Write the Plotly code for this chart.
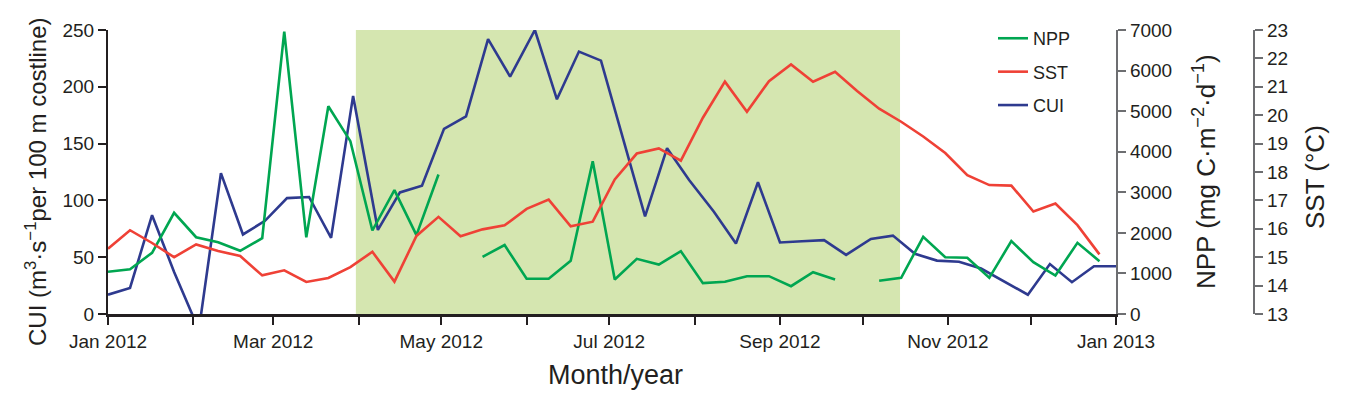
import plotly.graph_objects as go

# ---------------- data ----------------
# CUI sampled on 46 equally spaced dates spanning the whole year
cui_dates = ["2012-01-01", "2012-01-09", "2012-01-17", "2012-01-25", "2012-02-03", "2012-02-11",
             "2012-02-19", "2012-02-27", "2012-03-06", "2012-03-14", "2012-03-22", "2012-03-30",
             "2012-04-08", "2012-04-16", "2012-04-24", "2012-05-02", "2012-05-10", "2012-05-18",
             "2012-05-26", "2012-06-04", "2012-06-12", "2012-06-20", "2012-06-28", "2012-07-06",
             "2012-07-14", "2012-07-22", "2012-07-30", "2012-08-08", "2012-08-16", "2012-08-24",
             "2012-09-01", "2012-09-09", "2012-09-17", "2012-09-25", "2012-10-04", "2012-10-12",
             "2012-10-20", "2012-10-28", "2012-11-05", "2012-11-13", "2012-11-21", "2012-11-30",
             "2012-12-08", "2012-12-16", "2012-12-24", "2013-01-01"]
cui = [17, 23, 87, 37, -14, 124, 70, 82, 102, 103, 67, 192,
       74, 107, 113, 163, 174, 242, 209, 250, 189, 231, 223, 155,
       86, 146, 118, 90, 62, 116, 63, 64, 65, 52, 66, 69,
       53, 47, 46, 40, 29, 17, 44, 28, 42, 42]

# NPP and SST on 8-day composites
eight_day_dates = ["2012-01-01", "2012-01-09", "2012-01-17", "2012-01-25", "2012-02-02", "2012-02-10",
                   "2012-02-18", "2012-02-26", "2012-03-05", "2012-03-13", "2012-03-21", "2012-03-29",
                   "2012-04-06", "2012-04-14", "2012-04-22", "2012-04-30", "2012-05-08", "2012-05-16",
                   "2012-05-24", "2012-06-01", "2012-06-09", "2012-06-17", "2012-06-25", "2012-07-03",
                   "2012-07-11", "2012-07-19", "2012-07-27", "2012-08-04", "2012-08-12", "2012-08-20",
                   "2012-08-28", "2012-09-05", "2012-09-13", "2012-09-21", "2012-09-29", "2012-10-07",
                   "2012-10-15", "2012-10-23", "2012-10-31", "2012-11-08", "2012-11-16", "2012-11-24",
                   "2012-12-02", "2012-12-10", "2012-12-18", "2012-12-26"]
npp = [1040, 1105, 1509, 2495, 1893, 1770, 1558, 1869, 6960, 1890, 5122, 4260,
       2058, 3052, 1943, 3439, None, 1410, 1700, 868, 868, 1311, 3767, 850,
       1360, 1220, 1548, 760, 794, 932, 932, 685, 1030, 850, None, 818,
       892, 1903, 1400, 1385, 892, 1795, 1277, 949, 1755, 1302]
sst = [15.30, 15.95, 15.50, 15.00, 15.45, 15.22, 15.04, 14.36, 14.54, 14.13, 14.27, 14.65,
       15.19, 14.14, 15.75, 16.42, 15.74, 15.98, 16.12, 16.70, 17.03, 16.09, 16.25, 17.74,
       18.65, 18.83, 18.40, 19.91, 21.18, 20.12, 21.20, 21.79, 21.18, 21.53, 20.85, 20.23,
       19.77, 19.25, 18.67, 17.89, 17.54, 17.52, 16.61, 16.89, 16.13, 15.10]

# highlighted period
shade_start = "2012-03-31"
shade_end = "2012-10-14T14:00"

month_ticks = ["2012-%02d-01" % m for m in range(1, 13)] + ["2013-01-01"]
month_labels = ["Jan 2012", "", "Mar 2012", "", "May 2012", "", "Jul 2012", "",
                "Sep 2012", "", "Nov 2012", "", "Jan 2013"]

# ---------------- style ----------------
C_NPP = "#00a651"
C_SST = "#ef4136"
C_CUI = "#2e3a8f"
DARK = "#231f20"
GREY = "#6d6e71"
FAM = "Liberation Sans, Arial, sans-serif"
TICKF = dict(family=FAM, size=19, color=DARK)

fig = go.Figure()
fig.add_trace(go.Scatter(x=cui_dates, y=cui, name="CUI", mode="lines", yaxis="y",
                         line=dict(color=C_CUI, width=2.6), legendrank=3, legendgroup="c"))
fig.add_trace(go.Scatter(x=eight_day_dates, y=npp, name="NPP", mode="lines", yaxis="y2",
                         line=dict(color=C_NPP, width=2.6), connectgaps=False,
                         legendrank=1, legendgroup="a"))
fig.add_trace(go.Scatter(x=eight_day_dates, y=sst, name="SST", mode="lines", yaxis="y3",
                         line=dict(color=C_SST, width=2.6), legendrank=2, legendgroup="b"))

fig.add_vrect(x0=shade_start, x1=shade_end, fillcolor="#d5e6b0", opacity=1,
              line_width=0, layer="below")

# page body has an 8px margin, so the figure is offset by 8px
FIG_W, FIG_H = 1339, 387
ML, MR, MT, MB = 100, 93, 22, 81
W_PLOT = FIG_W - ML - MR
H_PLOT = FIG_H - MT - MB
XDOM = 1008 / W_PLOT

fig.update_layout(
    width=FIG_W, height=FIG_H,
    margin=dict(l=ML, r=MR, t=MT, b=MB, autoexpand=False),
    paper_bgcolor="white", plot_bgcolor="white",
    showlegend=True,
    legend=dict(x=(993 - 108) / W_PLOT, y=1.035, xanchor="left", yanchor="top",
                bgcolor="rgba(0,0,0,0)", font=dict(family=FAM, size=18, color=DARK),
                tracegroupgap=7, itemwidth=30),
    xaxis=dict(domain=[0, XDOM], type="date", range=["2012-01-01", "2013-01-01"],
               tickmode="array", tickvals=month_ticks, ticktext=month_labels,
               ticks="outside", ticklen=8, tickwidth=2, tickcolor=DARK,
               showline=True, linecolor=DARK, linewidth=2.5, showgrid=False, zeroline=False,
               tickfont=TICKF),
    yaxis=dict(range=[0, 250], tickvals=[0, 50, 100, 150, 200, 250],
               ticks="outside", ticklen=8, tickwidth=2, tickcolor=DARK,
               showline=True, linecolor=DARK, linewidth=2.2, showgrid=False, zeroline=False,
               tickfont=TICKF),
    yaxis2=dict(range=[0, 7000], tickvals=list(range(0, 7001, 1000)), overlaying="y",
                side="right", anchor="x",
                ticks="outside", ticklen=8, tickwidth=2, tickcolor=GREY,
                showline=True, linecolor=GREY, linewidth=2.2, showgrid=False, zeroline=False,
                tickfont=TICKF),
    yaxis3=dict(range=[13, 23], tickvals=list(range(13, 24)), overlaying="y",
                side="right", anchor="free", position=1.0,
                ticks="outside", ticklen=8, tickwidth=2, tickcolor=GREY,
                showline=True, linecolor=GREY, linewidth=2.2, showgrid=False, zeroline=False,
                tickfont=TICKF),
)

# helpers converting target page pixels to paper coordinates
def pxx(px):
    return (px - 108) / W_PLOT

def pxy(py):
    return (314 - py) / H_PLOT

fig.add_annotation(text="Month/year", x=pxx(615), y=pxy(375), xref="paper", yref="paper",
                   showarrow=False, xanchor="center", yanchor="middle",
                   font=dict(family=FAM, size=27, color=DARK))
fig.add_annotation(text="CUI (m<sup>3</sup>·s<sup>−1</sup>per 100 m costline)",
                   x=pxx(36), y=pxy(182), xref="paper", yref="paper", textangle=-90,
                   showarrow=False, xanchor="center", yanchor="middle",
                   font=dict(family=FAM, size=24, color=DARK))
fig.add_annotation(text="NPP (mg C·m<sup>−2</sup>·d<sup>−1</sup>)",
                   x=pxx(1204), y=pxy(172), xref="paper", yref="paper", textangle=-90,
                   showarrow=False, xanchor="center", yanchor="middle",
                   font=dict(family=FAM, size=26, color=DARK))
fig.add_annotation(text="SST (°C)",
                   x=pxx(1315), y=pxy(177), xref="paper", yref="paper", textangle=-90,
                   showarrow=False, xanchor="center", yanchor="middle",
                   font=dict(family=FAM, size=26, color=DARK))

fig.write_html("out.html")
